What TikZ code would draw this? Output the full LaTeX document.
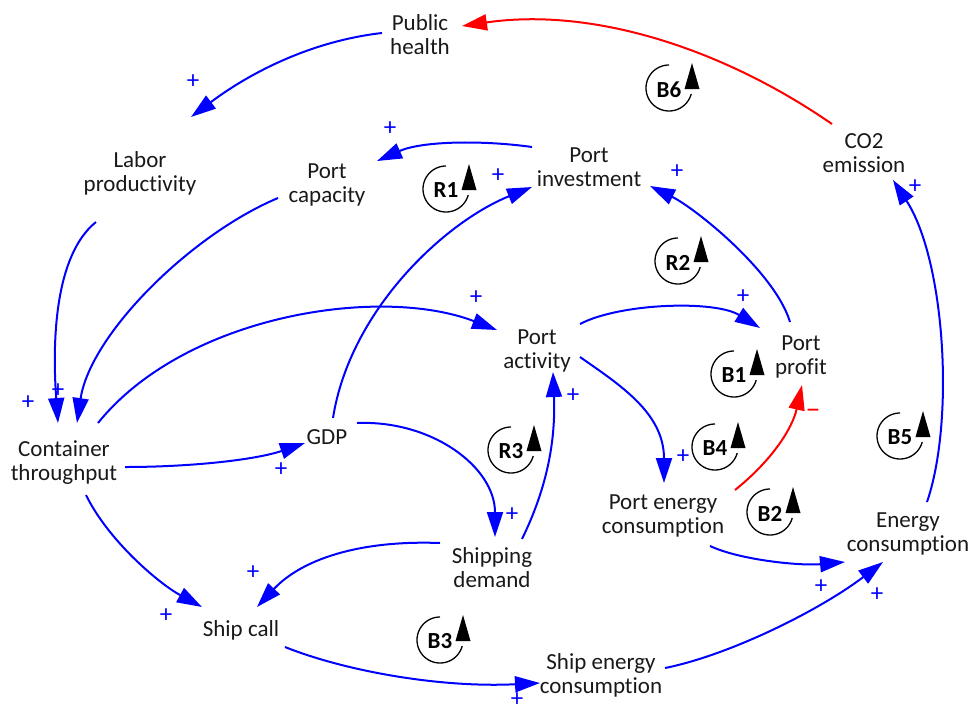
\documentclass[tikz,border=0pt]{standalone}
\usepackage{fontspec}
\setmainfont{Carlito}[Ligatures=NoCommon]
\usetikzlibrary{arrows.meta}
\begin{document}
\begin{tikzpicture}[x=1pt,y=-1pt,
  lbl/.style={font=\fontsize{23}{24}\selectfont, align=center, inner sep=0pt, text=black!90},
  arr/.style={draw=blue, line width=2pt, -{Triangle[length=25pt,width=16pt]}},
  neg/.style={draw=red, line width=2pt, -{Triangle[length=25pt,width=16pt]}},
  pl/.style={font=\fontsize{25}{25}\selectfont, text=blue, inner sep=0pt},
  mi/.style={font=\fontsize{30}{30}\selectfont, text=red, inner sep=0pt},
  lp/.pic={
    \draw[line width=1.3pt] plot[domain=-90:-345, samples=50, smooth] ({23*cos(\x)},{23*sin(\x)});
    \fill (15.5,1) -- (30.5,1) -- (23,-25) -- cycle;
    \node[font=\bfseries\fontsize{23}{23}\selectfont, inner sep=0pt] (-t) at (0,1.5) {#1};
  }]
\useasboundingbox (0,0) rectangle (972,713);

% variables
\node[lbl] (ph)  at (420,35)  {Public\\health};
\node[lbl] (lpr) at (140,173) {Labor\\productivity};
\node[lbl] (pc)  at (327,185) {Port\\capacity};
\node[lbl] (pi)  at (589,167) {Port\\investment};
\node[lbl] (co)  at (864,153) {CO2\\emission};
\node[lbl] (pa)  at (537,351) {Port\\activity};
\node[lbl] (pp)  at (801,357) {Port\\profit};
\node[lbl] (ct)  at (64,463)  {Container\\throughput};
\node[lbl] (gdp) at (327,437) {GDP};
\node[lbl] (pec) at (663,516) {Port energy\\consumption};
\node[lbl] (ec)  at (908,534) {Energy\\consumption};
\node[lbl] (sd)  at (492,568) {Shipping\\demand};
\node[lbl] (sc)  at (241,630) {Ship call};
\node[lbl] (sec) at (601,675) {Ship energy\\consumption};

% loop symbols
\pic (b6) at (669,88)  {lp=B6};
\pic (r1) at (446,189) {lp=R1};
\pic (r2) at (678,261) {lp=R2};
\pic (b1) at (734,374) {lp=B1};
\pic (b4) at (715,447) {lp=B4};
\pic (r3) at (511,450) {lp=R3};
\pic (b2) at (770,512) {lp=B2};
\pic (b5) at (900,436) {lp=B5};
\pic (b3) at (440,640) {lp=B3};

% connectors
\draw[neg] ([shift={(-32,-29)}]co.center) .. controls (722,48) and (592,7) .. ([shift={(42,-9)}]ph.center);
\draw[arr] ([shift={(-38,-2)}]ph.center) .. controls (312,41) and (251,72) .. ([shift={(51,-56)}]lpr.center);
\draw[arr] ([shift={(-44,49)}]lpr.center) .. controls (55,255) and (52,340) .. ([shift={(-6,-40)}]ct.center);
\draw[arr] ([shift={(-49,13)}]pc.center) .. controls (190,235) and (90,335) .. ([shift={(13,-40)}]ct.center);
\draw[arr] ([shift={(-57,-20)}]pi.center) .. controls (482,140) and (422,141) .. ([shift={(50,-24)}]pc.center);
\draw[arr] ([shift={(6,-19)}]gdp.center) .. controls (350,310) and (445,222) .. ([shift={(-57,20)}]pi.center);
\draw[arr] ([shift={(-11,-35)}]pp.center) .. controls (775,272) and (695,208) .. ([shift={(61,19)}]pi.center);
\draw[arr] ([shift={(34,-40)}]ct.center) .. controls (185,315) and (380,285) .. ([shift={(-40,-21)}]pa.center);
\draw[arr] ([shift={(43,-27)}]pa.center) .. controls (620,303) and (715,300) .. ([shift={(-41,-29)}]pp.center);
\draw[arr] ([shift={(43,6)}]pa.center) .. controls (620,385) and (664,413) .. ([shift={(1,-33)}]pec.center);
\draw[neg] ([shift={(72,-26)}]pec.center) .. controls (770,462) and (792,430) .. ([shift={(1,28)}]pp.center);
\draw[arr] ([shift={(61,4)}]ct.center) .. controls (190,467) and (255,460) .. ([shift={(-22,6)}]gdp.center);
\draw[arr] ([shift={(30,-14)}]gdp.center) .. controls (432,420) and (495,467) .. ([shift={(3,-31)}]sd.center);
\draw[arr] ([shift={(30,-29)}]sd.center) .. controls (544,494) and (556,447) .. ([shift={(16,21)}]pa.center);
\draw[arr] ([shift={(-52,-25)}]sd.center) .. controls (360,540) and (302,559) .. ([shift={(16,-23)}]sc.center);
\draw[arr] ([shift={(22,32)}]ct.center) .. controls (108,540) and (158,583) .. ([shift={(-39,-23)}]sc.center);
\draw[arr] ([shift={(44,17)}]sc.center) .. controls (345,671) and (440,688) .. ([shift={(-61,8)}]sec.center);
\draw[arr] ([shift={(64,-7)}]sec.center) .. controls (730,655) and (820,610) .. ([shift={(-25,28)}]ec.center);
\draw[arr] ([shift={(47,30)}]pec.center) .. controls (740,560) and (800,566) .. ([shift={(-63,28)}]ec.center);
\draw[arr] ([shift={(19,-32)}]ec.center) .. controls (955,420) and (945,260) .. ([shift={(29,27)}]co.center);

% polarity marks
\node[pl] (s1)  at (193,82)  {+};
\node[pl] (s2)  at (390,129) {+};
\node[pl] (s3)  at (498,176) {+};
\node[pl] (s4)  at (677,172) {+};
\node[pl] (s5)  at (915,187) {+};
\node[pl] (s6)  at (476,298) {+};
\node[pl] (s7)  at (743,297) {+};
\node[pl] (s8)  at (573,396) {+};
\node[pl] (s9)  at (683,457) {+};
\node[pl] (s10) at (28,403)  {+};
\node[pl] (s11) at (58,391)  {+};
\node[pl] (s12) at (281,470) {+};
\node[pl] (s13) at (512,515) {+};
\node[pl] (s14) at (253,573) {+};
\node[pl] (s15) at (166,616) {+};
\node[pl] (s16) at (517,700) {+};
\node[pl] (s17) at (821,587) {+};
\node[pl] (s18) at (877,595) {+};
\node[mi] (m1)  at (813,414) {–};
\end{tikzpicture}
\end{document}
